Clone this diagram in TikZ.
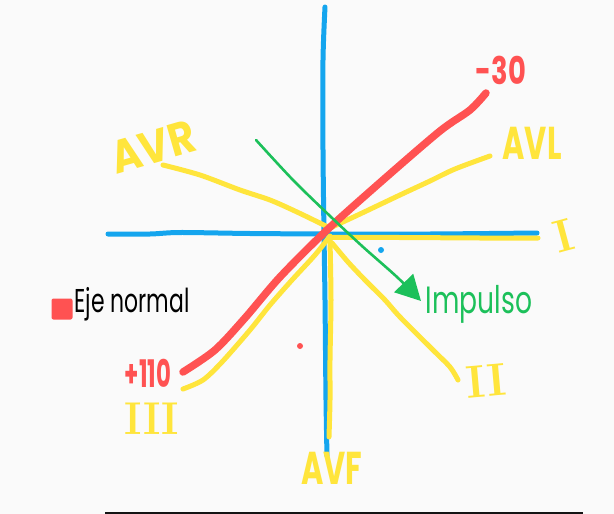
\documentclass[tikz,border=0pt]{standalone}
\usepackage{fontspec}
\usepackage{graphicx}
\newfontfamily\hand{Poppins}
\usetikzlibrary{arrows.meta}
\definecolor{cblue}{HTML}{14A5EE}
\definecolor{cred}{HTML}{FF5252}
\definecolor{cyel}{HTML}{FFE53C}
\definecolor{cgreen}{HTML}{1CC05A}
\definecolor{bgc}{HTML}{FAFAFA}
\tikzset{
  stroke/.style={line cap=round, line join=round},
  blueline/.style={stroke, draw=cblue, line width=5pt},
  yelline/.style={stroke, draw=cyel, line width=5pt},
  redline/.style={stroke, draw=cred, line width=7.5pt},
  greenline/.style={stroke, draw=cgreen, line width=2.6pt},
  lab/.style={inner sep=0pt, outer sep=0pt},
  big/.style={lab, font={\hand\bfseries\fontsize{46}{46}\selectfont}},
  mid/.style={lab, font={\hand\bfseries\fontsize{38}{38}\selectfont}},
  rom/.style={lab, text=cyel, font={\bfseries\fontsize{46}{46}\selectfont}},
}
\begin{document}
\begin{tikzpicture}[x=1pt, y=-1pt]
\useasboundingbox (0,0) rectangle (614,514);
\fill[bgc] (0,0) rectangle (614,514);
% bottom rule
\fill[black!92] (105,511.5) rectangle (583,514);

% blue axes
\draw[blueline] plot[smooth] coordinates {(325,7) (323,60) (323,150) (324,234) (325,300) (326,400) (327,456)};
\draw[blueline] plot[smooth] coordinates {(108,234) (150,234) (180,232.5) (250,233.5) (330,234) (430,234) (537,233)};

% yellow leads
\draw[yelline] plot[smooth] coordinates {(163,165) (200,175) (240,190) (270,200) (297,212) (330,228)};
\draw[yelline] plot[smooth] coordinates {(330,228) (360,214) (400,195) (430,181) (455,169) (490,156)};
\draw[yelline] plot[smooth] coordinates {(330,237.5) (400,237.5) (480,238) (538,238)};
\draw[yelline] plot[smooth] coordinates {(332,243) (348,262) (365,280) (385,300) (400,317) (433,350) (450,367) (458,380)};
\draw[yelline] plot[smooth] coordinates {(183,389) (203,380) (222,362) (250,330) (270,305) (292,280) (315,255) (330,236)};
\draw[yelline] plot[smooth] coordinates {(330,240) (331,300) (330,360) (330,400) (329,437)};

% red normal axis
\draw[redline] plot[smooth] coordinates {(183,372) (215,350) (245,318) (280,277) (327,230) (383,180) (440,131) (470,110) (486,93)};

% green impulse arrow
\coordinate (gs) at (256,140);
\coordinate (ge) at (421,301);
\draw[greenline, -{Triangle[length=25pt, width=26pt]}] plot[smooth] coordinates {(gs) (293,180) (330,216) (362,246) (397,277) (ge)};

% dots
\fill[cblue] (381,250) circle[radius=3];
\fill[cred] (300,346) circle[radius=3];

% labels
\node[mid, text=cred] (m30) at (501,70) {\scalebox{0.72}[1]{-30}};
\node[big, text=cyel] (avl) at (532,143) {\scalebox{0.66}[1]{AVL}};
\node[big, text=cyel, rotate=16] (avr) at (153,147) {\scalebox{0.88}[1]{AVR}};
\node[big, text=cyel] (avf) at (332,468) {\scalebox{0.66}[1]{AVF}};
\node[mid, text=cred] (p110) at (148,373) {\scalebox{0.6}[1]{+110}};
\node[lab, text=cgreen, font={\hand\fontsize{38}{38}\selectfont}] (imp) at (479,304) {\scalebox{0.7}[1]{Impulso}};
\node[rom, rotate=15] (r1) at (564,236) {I};
\node[rom, rotate=5] (r2) at (486,381) {II};
\node[rom] (r3) at (152,419) {\scalebox{0.9}[1]{III}};
\node[lab, fill=cred, rounded corners=2pt, minimum size=21pt] (sq) at (62,309) {};
\node[lab, text=black, font={\hand\fontsize{30}{30}\selectfont}] (eje) at (132,304) {\scalebox{0.73}[1.1]{Eje normal}};
\end{tikzpicture}
\end{document}
